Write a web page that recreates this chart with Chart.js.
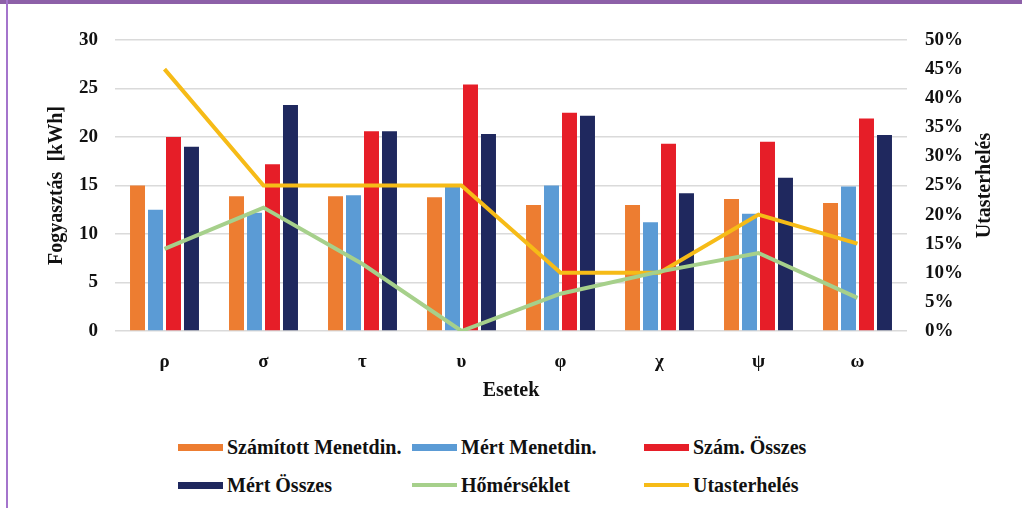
<!DOCTYPE html>
<html>
<head>
<meta charset="utf-8">
<script src="https://cdn.jsdelivr.net/npm/chart.js@4"></script>
<style>
  body { margin: 0; background: #fff; }
  #wrap { position: relative; width: 1022px; height: 508px; overflow: hidden; background: #fff; }
  #topband { position: absolute; left: 0; top: 0; width: 1022px; height: 4px; background: #8d60a8; }
  #leftline { position: absolute; left: 6px; top: 0; width: 2px; height: 508px; background: #a474cc; }
  #chart { position: absolute; left: 0; top: 0; }
  .lg { position: absolute; font-family: "Liberation Serif", "Times New Roman", serif; font-weight: bold; font-size: 20px; line-height: 24px; color: #111; white-space: nowrap; }
  .sw { position: absolute; width: 45px; }
</style>
</head>
<body>
<div id="wrap">
  <canvas id="chart" width="1022" height="420"></canvas>
  <div id="legend"></div>
  <div id="topband"></div>
  <div id="leftline"></div>
</div>
<script>
// esetek
const categories = ['ρ', 'σ', 'τ', 'υ', 'φ', 'χ', 'ψ', 'ω'];

// fogyasztás [kWh]
const szamitottMenetdin = [15.0, 13.9, 13.9, 13.8, 13.0, 13.0, 13.6, 13.2];
const mertMenetdin = [12.5, 12.2, 14.0, 14.9, 15.0, 11.2, 12.1, 14.9];
const szamOsszes = [20.0, 17.2, 20.6, 25.4, 22.5, 19.3, 19.5, 21.9];
const mertOsszes = [19.0, 23.3, 20.6, 20.3, 22.2, 14.2, 15.8, 20.2];

// jobb tengely, %
const homerseklet = [14.1, 21.2, 11.5, 0, 6.4, 10.2, 13.4, 5.7];
const utasterheles = [45, 25, 25, 25, 10, 10, 20, 15];

const leftTicks = [0, 5, 10, 15, 20, 25, 30];
const rightTicks = [0, 5, 10, 15, 20, 25, 30, 35, 40, 45, 50];

const font = { family: '"Liberation Serif", "Times New Roman", serif', weight: 'bold', size: 19 };

const barDs = (label, data, color) => ({
  type: 'bar', label, data, backgroundColor: color, yAxisID: 'y', order: 1,
  categoryPercentage: 0.727, barPercentage: 0.833
});
const lineDs = (label, data, color) => ({
  type: 'line', label, data, borderColor: color, backgroundColor: color, yAxisID: 'y1',
  borderWidth: 4, pointRadius: 0, tension: 0, order: 0
});

const datasets = [
  barDs('Számított Menetdin.', szamitottMenetdin, '#ed7d31'),
  barDs('Mért Menetdin.', mertMenetdin, '#5b9bd5'),
  barDs('Szám. Összes', szamOsszes, '#e61e28'),
  barDs('Mért Összes', mertOsszes, '#1f285e'),
  lineDs('Hőmérséklet', homerseklet, '#a6d08b'),
  lineDs('Utasterhelés', utasterheles, '#f6bb17')
];

// jobb oldali tengelycím, alulról felfelé olvasva
const rightTitle = {
  id: 'rightTitle',
  afterDraw(chart) {
    const { ctx, chartArea } = chart;
    ctx.save();
    ctx.translate(985, (chartArea.top + chartArea.bottom) / 2);
    ctx.rotate(-Math.PI / 2);
    ctx.font = 'bold 20px "Liberation Serif", "Times New Roman", serif';
    ctx.fillStyle = '#111';
    ctx.textAlign = 'center';
    ctx.textBaseline = 'middle';
    ctx.fillText('Utasterhelés', 0, 0);
    ctx.restore();
  }
};

const chart = new Chart(document.getElementById('chart'), {
  data: { labels: categories, datasets },
  plugins: [rightTitle],
  options: {
    responsive: false,
    animation: false,
    layout: { padding: { top: 40, left: 0, right: 0, bottom: 0 } },
    plugins: { legend: { display: false }, tooltip: { enabled: false } },
    scales: {
      x: {
        grid: { display: false },
        border: { display: false },
        ticks: { font, color: '#111', padding: 12 },
        title: { display: true, text: 'Esetek', font: { ...font, size: 20 }, color: '#111', padding: { top: 0, bottom: 17 } },
        afterFit(s) { s.height = 89; }
      },
      y: {
        position: 'left',
        min: 0, max: 30,
        afterBuildTicks(s) { s.ticks = leftTicks.map(v => ({ value: v })); },
        grid: { color: '#dadada', lineWidth: 1.5, drawTicks: false },
        border: { display: false },
        ticks: { font, color: '#111', padding: 17 },
        title: { display: true, text: 'Fogyasztás  [kWh]', font: { ...font, size: 20 }, color: '#111', padding: { top: 45, bottom: 0 } },
        afterFit(s) { s.width = 115; }
      },
      y1: {
        position: 'right',
        min: 0, max: 50,
        afterBuildTicks(s) { s.ticks = rightTicks.map(v => ({ value: v })); },
        grid: { display: false },
        border: { display: false },
        ticks: { font, color: '#111', padding: 10, callback: v => v + '%' },
        afterFit(s) { s.width = 115; }
      }
    }
  }
});

// jelmagyarázat: 3 oszlop, 2 sor
const colX = [178, 412, 644];
const rowY = [447, 485];
const legend = document.getElementById('legend');
chart.data.datasets.forEach((ds, i) => {
  const x = colX[i % 3], y = rowY[Math.floor(i / 3)];
  const isLine = ds.type === 'line';
  const sw = document.createElement('div');
  sw.className = 'sw';
  const h = isLine ? 4 : 7;
  sw.style.left = x + 'px';
  sw.style.top = (y - h / 2) + 'px';
  sw.style.height = h + 'px';
  sw.style.background = isLine ? ds.borderColor : ds.backgroundColor;
  legend.appendChild(sw);
  const t = document.createElement('div');
  t.className = 'lg';
  t.textContent = ds.label;
  t.style.left = (x + 49) + 'px';
  t.style.top = (y - 12) + 'px';
  legend.appendChild(t);
});
</script>
</body>
</html>
